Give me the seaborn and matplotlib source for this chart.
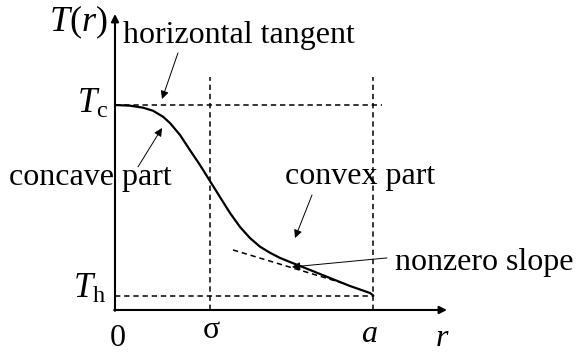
import numpy as np
import matplotlib
matplotlib.use("Agg")
import matplotlib.pyplot as plt
import seaborn as sns

# profile T(r) (r in units of sigma, T in units of Tc)
r_curve = [0.0, 0.158, 0.295, 0.4, 0.505, 0.579, 0.684, 0.789, 0.895, 1.0,
           1.105, 1.211, 1.316, 1.421, 1.526, 1.632, 1.737, 1.842, 1.947,
           2.263, 2.474, 2.684, 2.72]
T_curve = [1.0, 0.9966, 0.987, 0.972, 0.943, 0.912, 0.854, 0.780, 0.707, 0.629,
           0.551, 0.473, 0.405, 0.351, 0.309, 0.279, 0.254, 0.234, 0.215,
           0.156, 0.117, 0.083, 0.07]

sigma = 1.0
a = 2.72
Tc = 1.0
Th = 0.07
# nonzero slope tangent near r = a
tan_r = [1.242, 2.42]
tan_T = [0.293, 0.128]

sns.set_theme(style="white")
plt.rcParams["font.family"] = ["Liberation Serif", "DejaVu Serif"]
plt.rcParams["mathtext.fontset"] = "custom"
plt.rcParams["mathtext.rm"] = "Liberation Serif"
plt.rcParams["mathtext.it"] = "Liberation Serif:italic"
plt.rcParams["text.color"] = "black"

fig = plt.figure(figsize=(5.76, 3.53), dpi=100)
ax = fig.add_axes([0, 0, 1, 1])
ax.set_xlim(-1.2105, 4.853)
ax.set_ylim(-0.2098, 1.5122)
ax.axis("off")

dash = dict(color="black", lw=1.1, dashes=(3.5, 2.5))
top = 1.137
ax.plot([sigma, sigma], [0, top], **dash)
ax.plot([a, a], [0, top], **dash)
ax.plot([0, 2.81], [Tc, Tc], **dash)
ax.plot([0, a], [Th, Th], **dash)
ax.plot(tan_r, tan_T, **dash)

sns.lineplot(x=r_curve, y=T_curve, color="black", lw=1.6, ax=ax, sort=False)

# axes with arrows
ax_arrow = dict(arrowstyle="-|>", lw=1.5, color="black", mutation_scale=11,
                shrinkA=0, shrinkB=0)
ax.annotate("", xy=(0, 1.444), xytext=(0, -0.004), arrowprops=ax_arrow)
ax.annotate("", xy=(3.495, 0), xytext=(-0.008, 0), arrowprops=ax_arrow)

# labels
fs = 23
ax.text(-0.074, 1.361, r"$T(r)$", fontsize=26, ha="right", va="baseline")
ax.text(-0.074, 0.961, r"$T_{\mathrm{c}}$", fontsize=25, ha="right", va="baseline")
ax.text(-0.095, 0.0585, r"$T_{\mathrm{h}}$", fontsize=25, ha="right", va="baseline")
ax.text(0.032, -0.178, "0", fontsize=fs, ha="center", va="baseline")
ax.text(1.01, -0.137, "σ", fontsize=fs, ha="center", va="baseline")
ax.text(2.674, -0.156, "a", fontsize=fs, ha="center", va="baseline", style="italic")
ax.text(3.442, -0.178, "r", fontsize=fs, ha="center", va="baseline", style="italic")

ann = dict(arrowstyle="-|>", lw=0.7, color="black", mutation_scale=12,
           shrinkA=0, shrinkB=0)
ax.text(0.084, 1.302, "horizontal tangent", fontsize=fs, ha="left", va="baseline")
ax.annotate("", xy=(0.495, 1.029), xytext=(0.663, 1.254), arrowprops=ann)
ax.text(-1.116, 0.61, "concave part", fontsize=fs, ha="left", va="baseline")
ax.annotate("", xy=(0.495, 0.888), xytext=(0.242, 0.698), arrowprops=ann)
ax.text(1.789, 0.615, "convex part", fontsize=fs, ha="left", va="baseline")
ax.annotate("", xy=(1.895, 0.351), xytext=(2.074, 0.561), arrowprops=ann)
ax.text(2.947, 0.195, "nonzero slope", fontsize=fs, ha="left", va="baseline")
ax.annotate("", xy=(1.863, 0.210), xytext=(2.863, 0.254), arrowprops=ann)

fig.savefig("out.png", dpi=100)
